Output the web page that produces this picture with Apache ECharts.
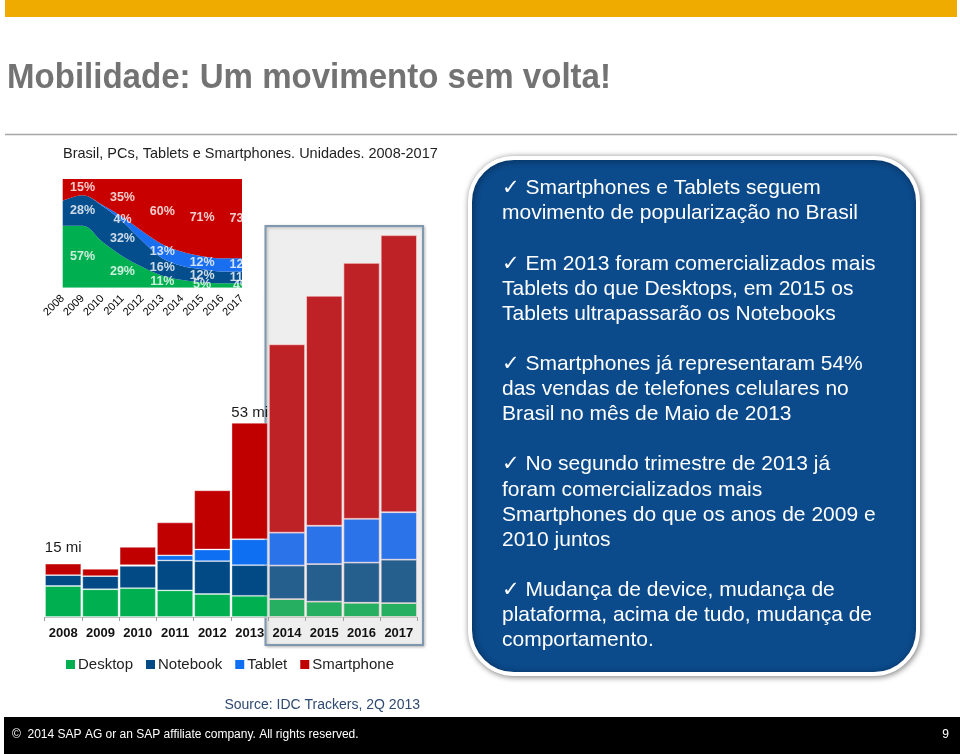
<!DOCTYPE html>
<html><head><meta charset="utf-8">
<script src="https://cdn.jsdelivr.net/npm/echarts@6/dist/echarts.min.js"></script>
<style>html,body{margin:0;padding:0;background:#fff}#c{width:960px;height:754px}</style>
</head><body><div id="c"></div>
<script>
// ---- Data ----
const years = ['2008','2009','2010','2011','2012','2013','2014','2015','2016','2017'];
// Units (millions)
const desktop    = [8.5, 7.6, 7.9, 7.3, 6.3, 5.8, 4.9, 4.2, 3.9, 3.8];
const notebook   = [3.0, 3.6, 6.1, 8.2, 9.0, 8.4, 9.2, 10.3, 11.0, 11.9];
const tablet     = [0, 0, 0.2, 1.4, 3.2, 7.1, 9.0, 10.5, 12.0, 13.0];
const smartphone = [3.1, 2.0, 5.0, 9.0, 16.2, 31.9, 51.6, 63.0, 70.1, 75.9];
const totalLabels = ['15 mi','','','','','53 mi','','','',''];
const forecastFrom = 6; // 2014 onward are projections
// Share (%) in the inset chart
const shareDesktop  = [57, 57, 42, 29, 19, 11, 7, 5, 4, 4];
const shareNotebook = [23, 28, 33, 32, 24, 16, 13, 12, 11, 11];
const shareTablet   = [0, 0, 1, 4, 9, 13, 13, 12, 12, 12];
const shareSmart    = [20, 15, 24, 35, 48, 60, 67, 71, 73, 73];
const shareLabelYears = ['2009','2011','2013','2015','2017'];
const seriesNames = ['Desktop','Notebook','Tablet','Smartphone'];

const bullets = [
  ['✓ Smartphones e Tablets seguem','movimento de popularização no Brasil'],
  ['✓ Em 2013 foram comercializados mais','Tablets do que Desktops, em 2015 os','Tablets ultrapassarão os Notebooks'],
  ['✓ Smartphones já representaram 54%','das vendas de telefones celulares no','Brasil no mês de Maio de 2013'],
  ['✓ No segundo trimestre de 2013 já','foram comercializados mais','Smartphones do que os anos de 2009 e','2010 juntos'],
  ['✓ Mudança de device, mudança de','plataforma, acima de tudo, mudança de','comportamento.']
];

// ---- Styles ----
const FONT = '"Liberation Sans", Arial, "DejaVu Sans", sans-serif';
const colorsNow  = ['#00b050', '#024a86', '#0f6ff2', '#c00000'];
const colorsProj = ['#26af61', '#255f8e', '#2a73e8', '#be2126'];
const inColors   = ['#00b050', '#054e8e', '#1a6ef0', '#c80000'];

const unitData = [desktop, notebook, tablet, smartphone];
const shareData = [shareDesktop, shareNotebook, shareTablet, shareSmart];

const barSeries = unitData.map((arr, s) => ({
  name: seriesNames[s], type: 'bar', stack: 'units',
  xAxisIndex: 1, yAxisIndex: 1, barCategoryGap: '3%', z: 3,
  color: colorsNow[s],
  data: arr.map((v, i) => {
    const item = {
      value: v,
      itemStyle: {
        color: i >= forecastFrom ? colorsProj[s] : colorsNow[s],
        borderColor: i >= forecastFrom ? 'rgba(255,225,225,0.75)' : 'rgba(255,255,255,0.45)',
        borderWidth: 0.8
      }
    };
    if (s === 3 && totalLabels[i]) {
      item.label = {
        show: true, position: 'top', formatter: totalLabels[i],
        distance: i === 0 ? 8 : 2, fontSize: 15, color: '#1a1a1a', fontFamily: FONT
      };
    }
    return item;
  })
}));

const areaSeries = shareData.map((arr, s) => ({
  name: 'share-' + seriesNames[s], type: 'line', stack: 'share',
  xAxisIndex: 0, yAxisIndex: 0, smooth: 0.35, symbol: 'none',
  lineStyle: { width: 0 }, areaStyle: { color: inColors[s], opacity: 1 },
  data: arr, z: 2
}));

// label points in the middle of each band (skip empty bands)
const labelPoints = [];
shareLabelYears.forEach(y => {
  const i = years.indexOf(y);
  let base = 0;
  shareData.forEach(arr => {
    if (arr[i] > 0) {
      labelPoints.push({ value: [y, base + arr[i] / 2], label: { formatter: arr[i] + '%' } });
    }
    base += arr[i];
  });
});

const bulletText = bullets.map(b => b.join('\n')).join('\n\n');

const chart = echarts.init(document.getElementById('c'), null, { renderer: 'canvas' });
chart.setOption({
  animation: false,
  backgroundColor: '#ffffff',
  legend: {
    data: seriesNames, left: 61, top: 652, icon: 'rect',
    itemWidth: 9, itemHeight: 9, itemGap: 13,
    textStyle: { fontSize: 15, color: '#222', fontFamily: FONT, padding: [0, 0, 0, -2] }
  },
  grid: [
    { left: 62.7, top: 179, width: 179.3, height: 108.7 },
    { left: 44.5, top: 215.5, width: 373, height: 401.5 }
  ],
  xAxis: [
    { gridIndex: 0, type: 'category', data: years, boundaryGap: false,
      axisLine: { show: false }, axisTick: { show: false },
      axisLabel: { rotate: 45, fontSize: 11, color: '#000', margin: 9, fontFamily: FONT, interval: 0 } },
    { gridIndex: 1, type: 'category', data: years, z: 5,
      axisLine: { show: true, lineStyle: { color: '#c8c8c8', width: 1 } },
      axisTick: { show: true, length: 4, lineStyle: { color: '#a0a0a0' } },
      axisLabel: { fontSize: 13, fontWeight: 'bold', color: '#111', margin: 10, fontFamily: FONT, interval: 0 } }
  ],
  yAxis: [
    { gridIndex: 0, type: 'value', min: 0, max: 100, show: false },
    { gridIndex: 1, type: 'value', min: 0, max: 110, show: false }
  ],
  series: [
    ...areaSeries,
    { type: 'scatter', xAxisIndex: 0, yAxisIndex: 0, symbolSize: 0, z: 4,
      label: { show: true, position: 'inside', color: '#fff', fontWeight: 'bold', fontSize: 12.5, fontFamily: FONT },
      data: labelPoints },
    ...barSeries
  ],
  graphic: [
    // top bar and title
    { type: 'rect', z: 1, shape: { x: 5, y: 0, width: 952, height: 17 }, style: { fill: '#f0ab00' } },
    { type: 'text', z: 1, x: 7, y: 78, scaleX: 0.944, style: { text: 'Mobilidade: Um movimento sem volta!', font: 'bold 35px ' + FONT, fill: '#737373', verticalAlign: 'middle' } },
    { type: 'line', z: 1, shape: { x1: 5, y1: 134.5, x2: 957, y2: 134.5 }, style: { stroke: '#a6a6a6', lineWidth: 1.5 } },
    // inset title
    { type: 'text', z: 1, x: 63, y: 154, style: { text: 'Brasil, PCs, Tablets e Smartphones. Unidades. 2008-2017', font: '14.5px ' + FONT, fill: '#222222', verticalAlign: 'middle' } },
    // crop of inset on the right
    { type: 'rect', z: 100, shape: { x: 242.5, y: 172, width: 21, height: 120 }, style: { fill: '#ffffff' } },
    // projection box
    { type: 'rect', z: 0, shape: { x: 265.5, y: 226, width: 157.5, height: 419 },
      style: { fill: '#eeeeef', stroke: '#7f98b0', lineWidth: 2, shadowBlur: 3, shadowColor: 'rgba(0,0,0,0.25)', shadowOffsetX: 1, shadowOffsetY: 1 } },
    // source
    { type: 'text', z: 1, x: 420, y: 705, style: { text: 'Source: IDC Trackers, 2Q 2013', font: '14px ' + FONT, fill: '#2f4a72', align: 'right', verticalAlign: 'middle' } },
    // right text panel
    { type: 'rect', z: 1, shape: { x: 470, y: 158, width: 448, height: 516, r: 44 },
      style: { fill: '#0b4a8b', stroke: '#ffffff', lineWidth: 4, shadowBlur: 6, shadowColor: 'rgba(0,0,0,0.45)', shadowOffsetX: 1, shadowOffsetY: 1 } },
    { type: 'text', z: 2, x: 502, y: 176, style: { text: bulletText, font: '21px ' + FONT, fill: '#ffffff', lineHeight: 25.1, verticalAlign: 'top' } },
    // footer
    { type: 'rect', z: 1, shape: { x: 4, y: 717, width: 956, height: 37 }, style: { fill: '#000000' } },
    { type: 'text', z: 2, x: 12, y: 735, style: { text: '©  2014 SAP AG or an SAP affiliate company. All rights reserved.', font: '12px ' + FONT, fill: '#ffffff', verticalAlign: 'middle' } },
    { type: 'text', z: 2, x: 949, y: 735, style: { text: '9', font: '12px ' + FONT, fill: '#ffffff', align: 'right', verticalAlign: 'middle' } }
  ]
});
</script>
</body></html>
